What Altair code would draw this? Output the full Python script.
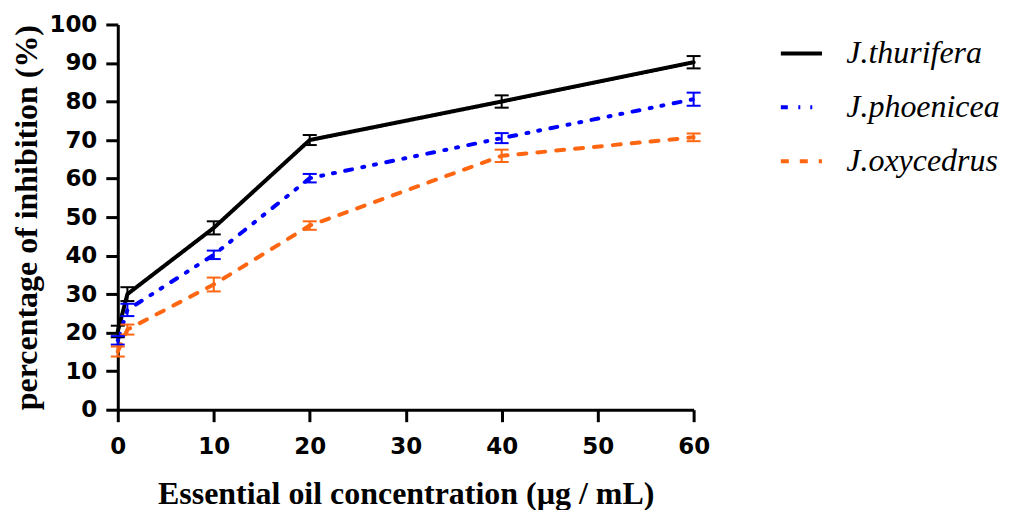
import altair as alt
import pandas as pd

x_vals = [0, 1, 10, 20, 40, 60]
series_names = ["J.thurifera", "J.phoenicea", "J.oxycedrus"]
thurifera = [20.3, 30.0, 47.2, 70.0, 80.0, 90.2]
phoenicea = [18.0, 25.9, 40.2, 60.1, 70.5, 80.6]
oxycedrus = [15.1, 20.8, 32.5, 47.8, 65.9, 70.7]
thurifera_err = [1.5, 1.8, 1.7, 1.3, 1.6, 1.6]
phoenicea_err = [1.1, 1.6, 1.1, 1.1, 1.3, 1.7]
oxycedrus_err = [1.3, 1.3, 1.8, 1.1, 1.6, 1.0]
colors = ["#000000", "#0000FF", "#FF6611"]
dashes = [[1, 0], [7, 10.5, 2, 10, 2, 10.5], [8, 11]]
x_ticks = [0, 10, 20, 30, 40, 50, 60]
y_ticks = list(range(0, 101, 10))

rows = []
for name, vals, errs in zip(series_names,
                            [thurifera, phoenicea, oxycedrus],
                            [thurifera_err, phoenicea_err, oxycedrus_err]):
    for xv, v, e in zip(x_vals, vals, errs):
        rows.append({"conc": xv, "value": v, "lo": v - e, "hi": v + e, "series": name})
df = pd.DataFrame(rows)

xs = alt.Scale(domain=[0, 60], nice=False)
ys = alt.Scale(domain=[0, 100], nice=False)
cscale = alt.Scale(domain=series_names, range=colors)

color_enc = alt.Color("series:N", scale=cscale,
                      legend=alt.Legend(
                          title=None, orient="none", legendX=662, legendY=6,
                          symbolType="stroke", symbolSize=1700, symbolStrokeWidth=4,
                          labelFont="Liberation Serif", labelFontStyle="italic",
                          labelFontSize=32, labelColor="#000000", labelOffset=22,
                          rowPadding=15, labelLimit=400))
dash_enc = alt.StrokeDash("series:N",
                          scale=alt.Scale(domain=series_names, range=dashes),
                          legend=None)

base = alt.Chart(df)

X_TITLE = "Essential oil concentration (µg / mL)"
Y_TITLE = "percentage of inhibition (%)"


def x_axis():
    return alt.Axis(values=x_ticks, title=X_TITLE)


def y_axis():
    return alt.Axis(values=y_ticks, title=Y_TITLE)


lines = base.mark_line(strokeWidth=4, strokeCap="round", strokeJoin="round").encode(
    x=alt.X("conc:Q", scale=xs, axis=x_axis()),
    y=alt.Y("value:Q", scale=ys, axis=y_axis()),
    color=color_enc,
    strokeDash=dash_enc,
    detail="series:N",
)

err_rule = base.mark_rule(strokeWidth=2, opacity=1).encode(
    x=alt.X("conc:Q", scale=xs, axis=x_axis()),
    y=alt.Y("lo:Q", scale=ys, axis=y_axis()),
    y2="hi:Q",
    color=alt.Color("series:N", scale=cscale, legend=None),
)
err_lo = base.mark_tick(orient="horizontal", size=14, thickness=2, opacity=1).encode(
    x=alt.X("conc:Q", scale=xs, axis=x_axis()),
    y=alt.Y("lo:Q", scale=ys, axis=y_axis()),
    color=alt.Color("series:N", scale=cscale, legend=None),
)
err_hi = base.mark_tick(orient="horizontal", size=14, thickness=2, opacity=1).encode(
    x=alt.X("conc:Q", scale=xs, axis=x_axis()),
    y=alt.Y("hi:Q", scale=ys, axis=y_axis()),
    color=alt.Color("series:N", scale=cscale, legend=None),
)

chart = alt.layer(lines, err_rule, err_lo, err_hi).properties(
    width=577, height=386,
    autosize=alt.AutoSizeParams(type="none"),
    padding={"left": 110, "top": 16, "right": 310, "bottom": 100},
).configure_view(stroke=None).configure_axis(
    grid=False,
    domainColor="#000000", domainWidth=3,
    tickColor="#000000", tickWidth=3, tickSize=12,
    labelFont="DejaVu Sans", labelFontWeight="bold", labelFontSize=23, labelColor="#000000",
    labelOverlap=False, labelBound=False, labelFlush=False,
    titleFont="Liberation Serif", titleFontWeight="bold", titleFontSize=32, titleColor="#000000",
).configure_axisX(labelPadding=14, titlePadding=20).configure_axisY(labelPadding=9, titlePadding=5)

chart.save("out.html", embed_options={"renderer": "svg", "actions": False})
